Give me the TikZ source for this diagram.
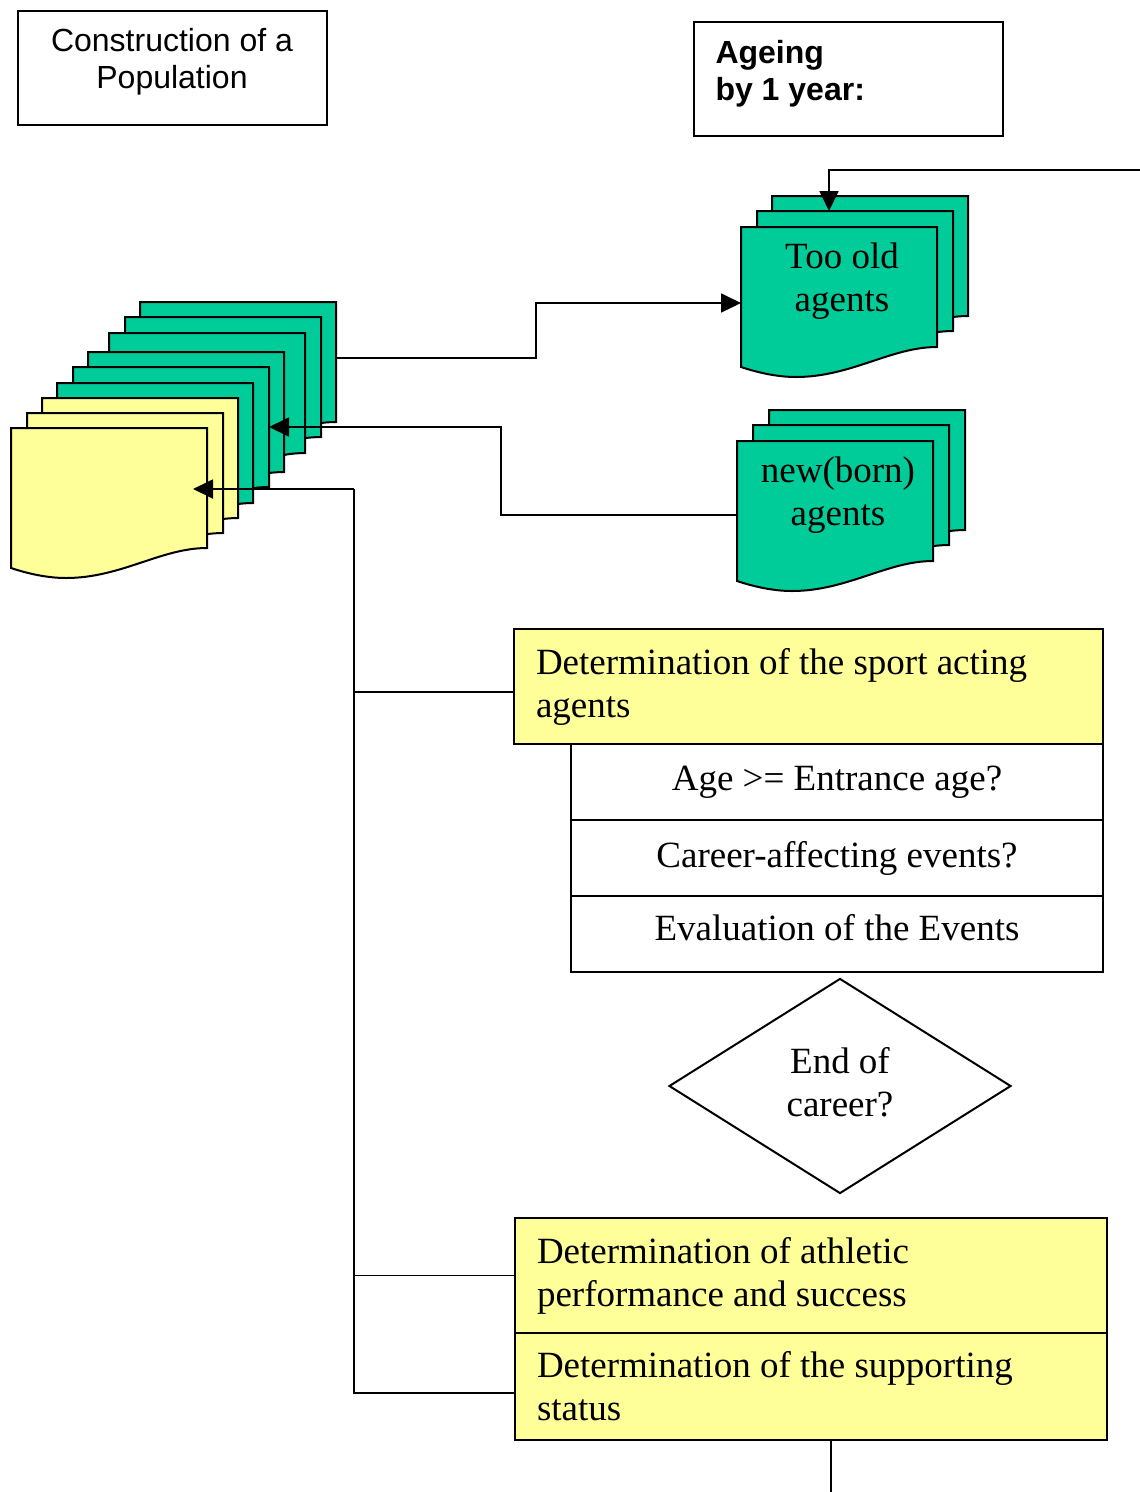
\documentclass[tikz,border=0pt]{standalone}
\usepackage{fontspec}
\setmainfont{Liberation Serif}
\newfontfamily\arialfont{Liberation Sans}
\usetikzlibrary{arrows.meta,shapes.geometric,calc}
\definecolor{agentgreen}{RGB}{0,204,153}
\definecolor{notepad}{RGB}{255,255,153}

\tikzset{
  outline/.style={draw=black, line width=2pt},
  pagebody/.style={rectangle, inner sep=0pt, outer sep=0pt,
    minimum width=196pt, minimum height=120pt, anchor=north west},
  serif/.style={font=\fontsize{37pt}{43pt}\selectfont},
  sans/.style={font=\arialfont\fontsize{32pt}{37pt}\selectfont},
  sansbold/.style={font=\arialfont\bfseries\fontsize{32pt}{37pt}\selectfont},
  titlebox/.style={outline, rectangle, inner sep=0pt, outer sep=0pt,
    minimum width=309pt, minimum height=114pt, anchor=north west},
  stepbox/.style={outline, fill=notepad, rectangle, anchor=north west,
    inner xsep=22pt, inner ysep=0pt, outer sep=0pt, align=flush left, serif},
  checkbox/.style={outline, fill=white, rectangle, anchor=north west,
    inner sep=0pt, outer sep=0pt, minimum width=532pt, minimum height=76pt, serif},
  link/.style={line width=1.8pt},
  feed/.style={link, -{Triangle[length=20pt,width=19pt]}},
}

% one sheet of a stacked document symbol: flat top, wavy bottom edge
\newcommand\docpage[4]{%
  \node[pagebody] (#1) at (#2,#3) {};
  \filldraw[outline, fill=#4] (#1.north west) -- (#1.north east) -- (#1.south east)
    .. controls ($(#1.north west)+(150,120)$) and ($(#1.north west)+(110,150)$)
    .. ($(#1.north west)+(55,150)$)
    .. controls ($(#1.north west)+(35,150)$) and ($(#1.north west)+(15,145)$)
    .. ($(#1.north west)+(0,140)$) -- cycle;
}

\begin{document}
\begin{tikzpicture}[x=1pt, y=-1pt]
\useasboundingbox (0,0) rectangle (1140,1492);

% headings
\node[titlebox] (popbox) at (18,11) {};
\node[sans, align=center] (poptext) at (172,62) {Construction of a\\Population};
\node[titlebox] (agebox) at (694,22) {};
\node[sansbold, anchor=west, align=left] (agetext) at (712,74) {Ageing\\by 1 year:};

% population stack
\docpage{L1}{140}{302}{agentgreen}
\docpage{L2}{125}{317}{agentgreen}
\docpage{L3}{109}{333}{agentgreen}
\docpage{L4}{88}{352}{agentgreen}
\docpage{L5}{73}{367}{agentgreen}
\docpage{L6}{57}{383}{agentgreen}
\docpage{L7}{42}{398}{notepad}
\docpage{L8}{27}{413}{notepad}
\docpage{L9}{11}{428}{notepad}

% too old agents
\docpage{O1}{772}{196}{agentgreen}
\docpage{O2}{757}{211}{agentgreen}
\docpage{O3}{741}{227}{agentgreen}
\node[serif, align=center] (oldtext) at (842,281) {Too old\\agents};

% new(born) agents
\docpage{N1}{769}{410}{agentgreen}
\docpage{N2}{753}{425}{agentgreen}
\docpage{N3}{737}{441}{agentgreen}
\node[serif, align=center] (newtext) at (838,495) {new(born)\\agents};

% sport acting agents
\node[stepbox, text width=545pt, minimum height=115pt] (S1) at (514,629)
  {Determination of the sport acting\\agents};
\node[checkbox] (C1) at (571,744) {Age >= Entrance age?};
\node[checkbox] (C2) at (571,820) {Career-affecting events?};
\node[checkbox, text depth=14pt] (C3) at (571,896) {Evaluation of the Events};

\node[outline, diamond, minimum width=342pt, minimum height=215pt, inner sep=0pt,
  serif, align=center] (endq) at (840,1086) {};
\node[serif, align=center] (endtext) at (840,1082) {End of\\career?};

\node[stepbox, text width=548pt, minimum height=115pt] (P1) at (515,1218)
  {Determination of athletic\\performance and success};
\node[stepbox, text width=548pt, minimum height=107pt] (P2) at (515,1333)
  {Determination of the supporting\\status};

% connectors
\draw[feed] (L1.east |- 0,358) -- (536,358) |- (O3.west |- 0,303);
\draw[feed] (N3.west |- 0,515) -| (501,427) -- (L5.east |- 0,427);

\coordinate (feedIn) at (1140,170);
\draw[feed] (feedIn) -| (829,0 |- O2.north);

\coordinate (popIn) at (193,489);
\coordinate (busTop) at (354,489);
\coordinate (busBot) at (354,1393);
\draw[feed] (busTop) -- (popIn);
\draw[link] (busTop) -- (busBot) -- (P2.west |- busBot);
\draw[link] (busTop |- 0,692) -- (S1.west |- 0,692);
\draw[link] (busTop |- P1.west) -- (P1.west);

\coordinate (feedOut) at (831,1492);
\draw[link] (P2.south -| feedOut) -- (feedOut);
\end{tikzpicture}
\end{document}
